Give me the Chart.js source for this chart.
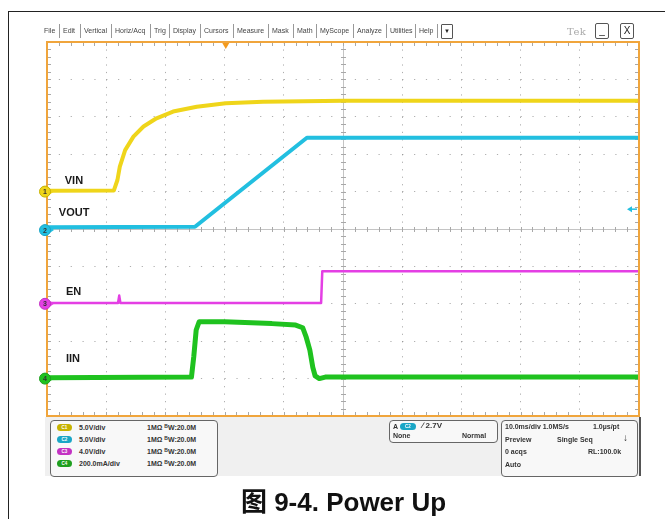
<!DOCTYPE html>
<html>
<head>
<meta charset="utf-8">
<script src="https://cdn.jsdelivr.net/npm/chart.js@4.4.1/dist/chart.umd.min.js"></script>
<style>
  body { margin: 0; background: #fff; }
  #page { position: relative; width: 665px; height: 519px; overflow: hidden; background: #fff; font-family: "Liberation Sans", Arial, sans-serif; }
  #frame { position: absolute; left: 8px; top: 11px; width: 720px; height: 600px; border: 1.5px solid #222; }
  #scope { position: absolute; left: 0; top: 0; }
  .menu { position: absolute; top: 27px; font-size: 7px; color: #444; line-height: 8px; white-space: nowrap; }
  .sep { position: absolute; top: 24px; width: 1px; height: 14px; background: #999; }
  .btn { position: absolute; top: 23px; width: 12px; height: 14px; border: 1px solid #555; border-radius: 2px; font-size: 10px; text-align: center; line-height: 14px; color: #222; }
  #drop { position: absolute; left: 441px; top: 24px; width: 10px; height: 13px; border: 1px solid #555; border-radius: 1px; font-size: 6px; text-align: center; line-height: 13px; color: #222; }
  #tek { position: absolute; left: 567px; top: 26px; font-size: 10px; color: #aaa; font-family: "DejaVu Serif", serif; letter-spacing: 0.5px; }
  #strip { position: absolute; left: 45px; top: 417px; width: 594px; height: 59px; background: #f0f0f0; border-right: 2px solid #555; }
  .box { position: absolute; border: 1px solid #666; border-radius: 4px; background: #f8f8f8; }
  .t { position: absolute; font-size: 7px; font-weight: bold; color: #333; white-space: nowrap; line-height: 8px; }
  .pill { position: absolute; width: 15px; height: 7px; border-radius: 4px; font-size: 4.5px; color: #fff; text-align: center; line-height: 7px; font-weight: bold; }
  #caption { position: absolute; left: 11px; width: 665px; top: 481px; text-align: center; font-size: 26px; font-weight: bold; color: #111; font-family: "Liberation Sans", "Noto Sans CJK SC", Arial, sans-serif; }
</style>
</head>
<body>
<div id="page">
  <div id="frame"></div>
  <div id="strip"></div>
  <canvas id="scope" width="665" height="519"></canvas>
  <div id="menubar"></div>
  <div id="drop">&#9660;</div>
  <div id="tek">Tek</div>
  <div class="btn" style="left:595px">_</div>
  <div class="btn" style="left:620px">X</div>

  <div class="box" style="left:50px;top:420px;width:166px;height:55px"></div>
  <div id="chanRows"></div>

  <div class="box" style="left:389px;top:420px;width:107px;height:21px"></div>
  <div class="t" style="left:393px;top:423px">A</div>
  <div class="pill" style="left:400px;top:423px;width:16px;background:#1aa6c6">C2</div>
  <div class="t" style="left:422px;top:422px;font-size:8px">&#8725; 2.7V</div>
  <div class="t" style="left:393px;top:432px">None</div>
  <div class="t" style="left:462px;top:432px">Normal</div>

  <div class="box" style="left:501px;top:420px;width:135px;height:55px"></div>
  <div class="t" style="left:505px;top:423px">10.0ms/div 1.0MS/s</div>
  <div class="t" style="left:593px;top:423px">1.0&micro;s/pt</div>
  <div class="t" style="left:505px;top:436px">Preview</div>
  <div class="t" style="left:557px;top:436px">Single Seq</div>
  <div class="t" style="left:623px;top:434px;font-size:10px">&#8595;</div>
  <div class="t" style="left:505px;top:448px">0 acqs</div>
  <div class="t" style="left:588px;top:448px">RL:100.0k</div>
  <div class="t" style="left:505px;top:461px">Auto</div>

  <div id="caption">图 9-4. Power Up</div>
</div>
<script>
// time axis in ms (10 ms/div), vertical axis in divisions (0 = bottom of screen)
const vinTime = [0, 11.3, 11.9, 12.3, 13.2, 14.6, 16.3, 18.5, 21.3, 25.3, 30.2, 36.5, 50.2, 100];
const vinLevel = [6.02, 6.03, 6.31, 6.67, 7.11, 7.47, 7.74, 7.96, 8.14, 8.27, 8.36, 8.40, 8.43, 8.43];

const voutTime = [0, 25.0, 43.9, 100];
const voutLevel = [5.05, 5.06, 7.44, 7.44];

const enTime = [0, 12.0, 12.2, 12.4, 46.3, 46.5, 100];
const enLevel = [3.02, 3.02, 3.22, 3.02, 3.02, 3.87, 3.87];

const iinTime = [0, 24.4, 24.8, 25.2, 25.7, 30, 38, 42, 43.2, 43.8, 44.4, 44.9, 45.3, 46, 47, 100];
const iinLevel = [1.02, 1.04, 1.6, 2.3, 2.52, 2.52, 2.47, 2.43, 2.36, 2.1, 1.76, 1.3, 1.07, 1.0, 1.04, 1.04];

const channelNames = ["VIN", "VOUT", "EN", "IIN"];
const channelColors = ["#efd51a", "#22bfe0", "#e43fe4", "#1fc21f"];
const groundLevels = [6.0, 4.97, 3.0, 1.0];
const channelScales = ["5.0V/div", "5.0V/div", "4.0V/div", "200.0mA/div"];
const pillColors = ["#c7b300", "#1aa6c6", "#c332c3", "#1f9f1f"];

const menuItems = ["File", "Edit", "Vertical", "Horiz/Acq", "Trig", "Display", "Cursors", "Measure", "Mask", "Math", "MyScope", "Analyze", "Utilities", "Help"];
const menuX = [44, 63, 84, 115, 154, 173, 204, 237, 272, 297, 320, 357, 390, 419];

// label anchors (ms, div)
const labelPos = [[3.0, 6.29], [2.0, 5.43], [3.2, 3.32], [3.2, 1.52]];
const triggerTime = 30.2;
const triggerLevel = 5.53;

function points(times, levels) {
  return times.map((t, i) => ({ x: t, y: levels[i] }));
}

function buildMenu() {
  const bar = document.querySelector("#menubar");
  bar.innerHTML = menuItems.map((name, i) => {
    const sep = i > 0 ? `<div class="sep" style="left:${menuX[i] - 4}px"></div>` : "";
    return `${sep}<div class="menu" style="left:${menuX[i]}px">${name}</div>`;
  }).join("") + `<div class="sep" style="left:437px"></div>`;

  const rows = document.querySelector("#chanRows");
  rows.innerHTML = channelScales.map((label, i) => {
    const top = 424 + i * 12;
    return `
      <div class="pill" style="left:57px;top:${top}px;background:${pillColors[i]}">C${i + 1}</div>
      <div class="t" style="left:79px;top:${top}px">${label}</div>
      <div class="t" style="left:147px;top:${top}px">1M&Omega; <span style="font-size:5px;position:relative;top:-2px">B</span>W:20.0M</div>`;
  }).join("");
}

const scopeOverlay = {
  id: "scopeOverlay",
  beforeDatasetsDraw(chart) {
    const { ctx, chartArea, scales } = chart;
    const { left, right, top, bottom } = chartArea;
    const cx = Math.round(scales.x.getPixelForValue(50)) + 0.5;
    const cy = Math.round(scales.y.getPixelForValue(5)) + 0.5;
    ctx.save();
    ctx.lineWidth = 1;
    ctx.strokeStyle = "#c4c4c4";
    ctx.beginPath();
    ctx.moveTo(cx, top);
    ctx.lineTo(cx, bottom);
    ctx.moveTo(left, cy);
    ctx.lineTo(right, cy);
    ctx.stroke();

    ctx.strokeStyle = "#a8a8a8";
    ctx.beginPath();
    for (let i = 1; i < 50; i += 1) {
      const x = Math.round(scales.x.getPixelForValue(i * 2)) + 0.5;
      ctx.moveTo(x, top); ctx.lineTo(x, top + 4);
      ctx.moveTo(x, bottom); ctx.lineTo(x, bottom - 4);
      ctx.moveTo(x, cy - 2.5); ctx.lineTo(x, cy + 2.5);
      const y = Math.round(scales.y.getPixelForValue(i * 0.2)) + 0.5;
      ctx.moveTo(left, y); ctx.lineTo(left + 4, y);
      ctx.moveTo(right, y); ctx.lineTo(right - 4, y);
      ctx.moveTo(cx - 2.5, y); ctx.lineTo(cx + 2.5, y);
    }
    ctx.stroke();
    ctx.restore();
  },
  afterDatasetsDraw(chart) {
    const { ctx, chartArea, scales } = chart;
    const { left, right, top, bottom } = chartArea;
    ctx.save();
    ctx.strokeStyle = "#f0a53c";
    ctx.lineWidth = 2;
    ctx.strokeRect(left, top, right - left, bottom - top);

    // trigger position marker
    const tx = scales.x.getPixelForValue(triggerTime);
    ctx.fillStyle = "#f39a1e";
    ctx.beginPath();
    ctx.moveTo(tx - 3.5, top + 1);
    ctx.lineTo(tx + 3.5, top + 1);
    ctx.lineTo(tx, top + 7);
    ctx.closePath();
    ctx.fill();

    // trigger level arrow
    const ty = scales.y.getPixelForValue(triggerLevel);
    ctx.strokeStyle = channelColors[1];
    ctx.fillStyle = channelColors[1];
    ctx.lineWidth = 1.5;
    ctx.beginPath();
    ctx.moveTo(right - 8, ty);
    ctx.lineTo(right - 2, ty);
    ctx.stroke();
    ctx.beginPath();
    ctx.moveTo(right - 12, ty);
    ctx.lineTo(right - 7, ty - 3);
    ctx.lineTo(right - 7, ty + 3);
    ctx.closePath();
    ctx.fill();

    // channel labels
    ctx.fillStyle = "#1a1a1a";
    ctx.font = "bold 11px 'Liberation Sans', Arial, sans-serif";
    ctx.textBaseline = "middle";
    channelNames.forEach((name, i) => {
      ctx.fillText(name, scales.x.getPixelForValue(labelPos[i][0]), scales.y.getPixelForValue(labelPos[i][1]));
    });

    // ground markers
    ctx.font = "bold 7px 'Liberation Sans', Arial, sans-serif";
    ctx.textAlign = "center";
    groundLevels.forEach((level, i) => {
      const gy = scales.y.getPixelForValue(level);
      const gx = left - 2;
      ctx.fillStyle = channelColors[i];
      ctx.beginPath();
      ctx.moveTo(gx + 4, gy - 3.5);
      ctx.lineTo(gx + 9, gy);
      ctx.lineTo(gx + 4, gy + 3.5);
      ctx.closePath();
      ctx.fill();
      ctx.beginPath();
      ctx.arc(gx, gy, 5.5, 0, Math.PI * 2);
      ctx.fill();
      ctx.strokeStyle = pillColors[i];
      ctx.lineWidth = 1;
      ctx.stroke();
      ctx.fillStyle = "#333";
      ctx.fillText(String(i + 1), gx, gy + 0.5);
    });
    ctx.restore();
  },
};

function gridColor(context) {
  const v = context.tick && context.tick.value;
  if (v === context.scale.min || v === context.scale.max) return "rgba(0,0,0,0)";
  return "rgba(120,120,120,0.6)";
}

function renderScope() {
  buildMenu();
  const series = [
    points(vinTime, vinLevel),
    points(voutTime, voutLevel),
    points(enTime, enLevel),
    points(iinTime, iinLevel),
  ];
  const widths = [4, 4, 2.5, 5];

  new Chart(document.querySelector("#scope"), {
    type: "line",
    data: {
      datasets: series.map((data, i) => ({
        label: channelNames[i],
        data,
        borderColor: channelColors[i],
        borderWidth: widths[i],
        pointRadius: 0,
        tension: 0,
        fill: false,
        borderJoinStyle: "round",
      })),
    },
    options: {
      responsive: false,
      animation: false,
      events: [],
      layout: { padding: { left: 47, top: 42, right: 26, bottom: 103 } },
      plugins: { legend: { display: false }, tooltip: { enabled: false } },
      scales: {
        x: {
          type: "linear",
          min: 0,
          max: 100,
          ticks: { display: false, stepSize: 10 },
          grid: { color: gridColor, lineWidth: 1, drawTicks: false },
          border: { display: false, dash: [1.2, 6.28] },
        },
        y: {
          type: "linear",
          min: 0,
          max: 10,
          ticks: { display: false, stepSize: 1 },
          grid: { color: gridColor, lineWidth: 1, drawTicks: false },
          border: { display: false, dash: [1.2, 10.64] },
        },
      },
    },
    plugins: [scopeOverlay],
  });
}

renderScope();
</script>
</body>
</html>
